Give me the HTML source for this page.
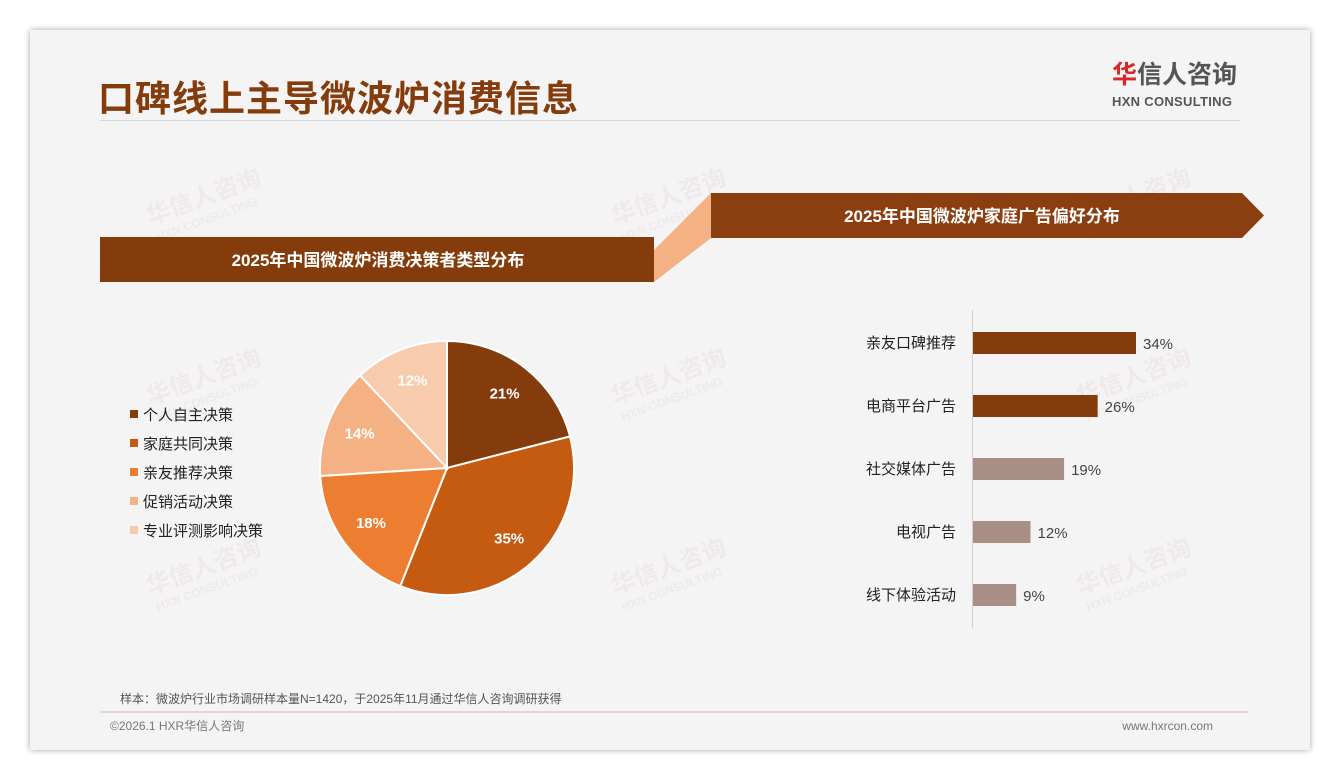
<!DOCTYPE html>
<html><head><meta charset="utf-8">
<style>
body{margin:0;width:1340px;height:780px;background:#fff;font-family:"Liberation Sans","Noto Sans CJK SC",sans-serif;overflow:hidden;position:relative}
.card{position:absolute;left:30px;top:30px;width:1280px;height:720px;background:#f4f4f4;box-shadow:0 0 6px rgba(0,0,0,.35)}
.abs{position:absolute}
</style></head><body>
<div class="card"></div>
<div class="abs" style="left:98px;top:70px;font-size:36px;font-weight:bold;color:#843c0c;letter-spacing:1px">口碑线上主导微波炉消费信息</div>
<div class="abs" style="left:100px;top:120px;width:1140px;height:1px;background:#d8d8d8"></div>
<div class="abs" style="left:1112px;top:62px;font-size:25px;font-weight:bold;color:#555;line-height:27px"><span style="color:#d9262b">华</span>信人咨询</div>
<div class="abs" style="left:1112px;top:94px;font-size:13px;font-weight:bold;color:#555;letter-spacing:.3px">HXN CONSULTING</div>

<svg class="abs" style="left:0;top:0" width="1340" height="780">
  <g id="wm" fill="#ecdcdc" font-weight="bold" opacity="0.45"></g>
  <polygon points="654,250 711,193 711,238 654,282" fill="#f4b183"/>
  <rect x="100" y="237" width="554" height="45" fill="#843c0c"/>
  <polygon points="711,193 1242,193 1264,215.5 1242,238 711,238" fill="#8b3f10"/>
  <text x="378" y="266" text-anchor="middle" fill="#fff" font-size="17" font-weight="bold">2025年中国微波炉消费决策者类型分布</text>
  <text x="982" y="222" text-anchor="middle" fill="#fff" font-size="17" font-weight="bold">2025年中国微波炉家庭广告偏好分布</text>
  <g id="pie"></g><g id="legend"></g>
  <line x1="972.5" y1="310" x2="972.5" y2="628" stroke="#d0d0d0"/>
  <g id="bars"></g>
  <text x="120" y="703" fill="#555" font-size="12">样本：微波炉行业市场调研样本量N=1420，于2025年11月通过华信人咨询调研获得</text>
  <line x1="100" y1="712" x2="1248" y2="712" stroke="#d9b9a6"/>
  <text x="110" y="730" fill="#777" font-size="12">©2026.1 HXR华信人咨询</text>
  <text x="1213" y="730" text-anchor="end" fill="#777" font-size="12">www.hxrcon.com</text>
</svg>
<script>
const pieCats=["个人自主决策","家庭共同决策","亲友推荐决策","促销活动决策","专业评测影响决策"];
const pieVals=[21,35,18,14,12];
const pieColors=["#843c0c","#c55a11","#ed7d31","#f4b183","#f8cbad"];
const barCats=["亲友口碑推荐","电商平台广告","社交媒体广告","电视广告","线下体验活动"];
const barVals=[34,26,19,12,9];
const barColors=["#843c0c","#843c0c","#a88e85","#a88e85","#a88e85"];
const NS="http://www.w3.org/2000/svg";
function mk(t,a,p){const e=document.createElementNS(NS,t);for(const k in a)e.setAttribute(k,a[k]);p.appendChild(e);return e;}
const wm=document.getElementById('wm');
[[150,225],[615,225],[1080,225],[150,405],[615,405],[1080,405],[150,595],[615,595],[1080,595]].forEach(p=>{
  const g=mk('g',{transform:`translate(${p[0]},${p[1]}) rotate(-20)`},wm);
  
  
  const t=mk('text',{x:0,y:0,'font-size':24},g);t.textContent='华信人咨询';
  const t2=mk('text',{x:2,y:18,'font-size':12},g);t2.textContent='HXN CONSULTING';
});
const cx=447,cy=468,r=127,pie=document.getElementById('pie');
const tot=pieVals.reduce((a,b)=>a+b,0);let a0=-Math.PI/2;
pieVals.forEach((v,i)=>{
  const a1=a0+v/tot*2*Math.PI;
  const x0=cx+r*Math.cos(a0),y0=cy+r*Math.sin(a0),x1=cx+r*Math.cos(a1),y1=cy+r*Math.sin(a1);
  const s=mk('path',{d:`M${cx},${cy}L${x0},${y0}A${r},${r} 0 ${a1-a0>Math.PI?1:0} 1 ${x1},${y1}Z`,fill:pieColors[i],stroke:'#fff','stroke-width':2},pie);
  
  
  const m=(a0+a1)/2,lr=r*0.74;
  const t=mk('text',{x:cx+lr*Math.cos(m),y:cy+lr*Math.sin(m)+5,'text-anchor':'middle',fill:'#fff','font-size':15,'font-weight':'bold'},pie);
  t.textContent=v+'%';
  
  
  a0=a1;
});
const lg=document.getElementById('legend');
pieCats.forEach((c,i)=>{
  const y=415+i*29;
  const g=mk('g',{},lg);
  
  
  mk('rect',{x:130,y:y-5,width:8,height:8,fill:pieColors[i]},g);
  const t=mk('text',{x:143,y:y+5,fill:'#222','font-size':15},g);t.textContent=c;
});
const bx=973,scale=163/34,bg=document.getElementById('bars');
barCats.forEach((c,i)=>{
  const yc=343+i*63,w=barVals[i]*scale;
  const b=mk('rect',{x:bx,y:yc-11,width:w,height:22,fill:barColors[i]},bg);
  
  
  const l=mk('text',{x:956,y:yc+5,'text-anchor':'end',fill:'#222','font-size':15},bg);l.textContent=c;
  
  
  const v=mk('text',{x:bx+w+7,y:yc+6,fill:'#444','font-size':15},bg);v.textContent=barVals[i]+'%';
  
  
});
</script>
</body></html>
